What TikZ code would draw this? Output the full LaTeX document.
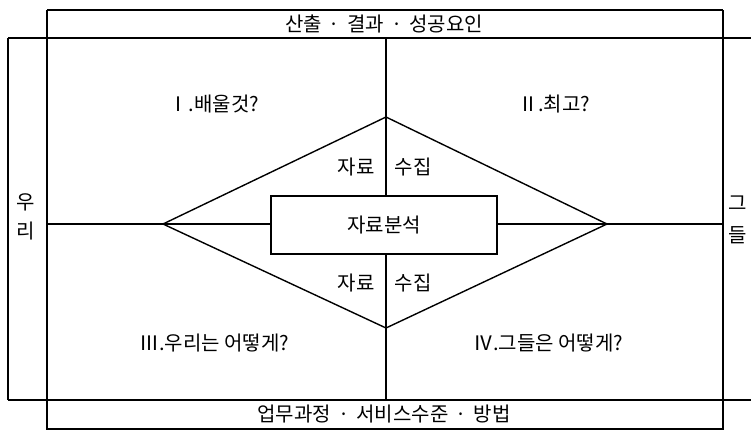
\documentclass[tikz,border=0pt]{standalone}
\usepackage{fontspec}
\setmainfont{Noto Sans CJK KR}
\begin{document}
\begin{tikzpicture}[x=1pt,y=-1pt,line width=1.4pt,
  txt/.style={font=\fontsize{20}{22}\selectfont, inner sep=0pt},
  thick box/.style={line width=2.2pt}]
\useasboundingbox (0,0) rectangle (751,431);
% frame coordinates
\coordinate (tl) at (47,10);
\coordinate (tr) at (723,10);
\coordinate (bl) at (47,429);
\coordinate (br) at (723,429);
\coordinate (ol) at (8,38);
\coordinate (or) at (751,38);
\coordinate (ul) at (8,400);
\coordinate (ur) at (751,400);
\coordinate (ml) at (47,224);
\coordinate (mr) at (723,224);
\coordinate (ct) at (386,38);
\coordinate (cb) at (386,400);
% diamond
\coordinate (dt) at (386,117);
\coordinate (dl) at (163,224);
\coordinate (dr) at (607,224);
\coordinate (db) at (386,328);
% frame
\draw (ol) -- (or);
\draw (ul) -- (ur);
\draw (ol) -- (ul);
\draw (tl) -- (bl);
\draw (tr) -- (br);
\draw (tl) -- (tr);
\draw[thick box] (47,400) -- (bl) -- (br) -- (723,400);
% center box
\node[draw, minimum width=226pt, minimum height=58pt, txt] (box) at (384,225) {자료분석};
\draw (ml) -- (box.west |- ml);
\draw (box.east |- mr) -- (mr);
\draw (ct) -- (ct |- box.north);
\draw (cb |- box.south) -- (cb);
\draw (dl) -- (dt) -- (dr) -- (db) -- cycle;
% labels
\node[txt] (title) at (384,24) {산출\hspace{0.35em}·\hspace{0.35em}결과\hspace{0.35em}·\hspace{0.35em}성공요인};
\node[txt] (foot) at (384,414) {업무과정\hspace{0.35em}·\hspace{0.35em}서비스수준\hspace{0.35em}·\hspace{0.35em}방법};
\node[txt] (w1) at (26,202) {우};
\node[txt] (w2) at (26,231) {리};
\node[txt] (g1) at (738,203) {그};
\node[txt] (g2) at (738,235) {들};
\node[txt] (q1) at (214,104) {Ⅰ.배울것?};
\node[txt] (q2) at (554,104) {Ⅱ.최고?};
\node[txt] (q3) at (214,343) {Ⅲ.우리는 어떻게?};
\node[txt] (q4) at (548,343) {Ⅳ.그들은 어떻게?};
\node[txt] (a1) at (356,167) {자료};
\node[txt] (b1) at (413,167) {수집};
\node[txt] (a2) at (356,283) {자료};
\node[txt] (b2) at (413,283) {수집};
\end{tikzpicture}
\end{document}
